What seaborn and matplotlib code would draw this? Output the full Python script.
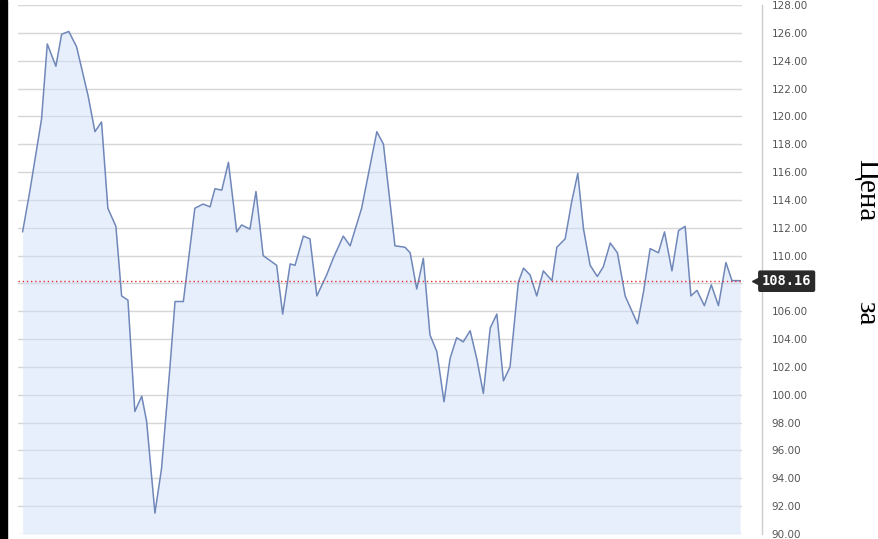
import matplotlib
matplotlib.use('Agg')
import matplotlib.pyplot as plt
import matplotlib.patches as mpatches
import pandas as pd
import seaborn as sns

# datos: dia (posicion) y precio
dias = [0.0, 2.5, 6.6, 8.6, 11.6, 13.6, 16.1, 18.8, 22.8, 25.2, 27.5, 29.7, 32.5, 34.5,
        36.7, 39.1, 41.5, 43.2, 46.1, 48.4, 51.3, 53.1, 56.0, 60.0, 62.9, 65.3, 67.0, 69.4,
        71.7, 74.6, 76.3, 79.2, 81.3, 83.8, 88.5, 90.6, 93.2, 94.9, 97.8, 100.1, 102.5, 105.9,
        108.2, 111.7, 114.1, 118.1, 123.4, 125.7, 129.7, 133.2, 135.0, 137.3, 139.6, 141.9,
        144.3, 146.8, 148.9, 151.2, 153.5, 155.9, 158.2, 160.5, 162.9, 165.2, 167.5, 169.8,
        172.7, 174.5, 176.8, 179.1, 181.4, 184.4, 186.1, 189.0, 191.3, 193.4, 195.4, 197.7,
        200.2, 202.3, 204.7, 207.2, 209.9, 214.2, 216.3, 218.6, 221.5, 223.6, 226.2, 228.5,
        230.8, 232.8, 234.9, 237.5, 239.9, 242.4, 245.0, 247.1, 250.0]
precios = [111.7, 114.6, 119.8, 125.2, 123.6, 125.9, 126.1, 125.0, 121.5, 118.9, 119.6, 113.4,
           112.1, 107.1, 106.8, 98.8, 99.9, 98.1, 91.5, 94.7, 101.9, 106.7, 106.7, 113.4, 113.7,
           113.5, 114.8, 114.7, 116.7, 111.7, 112.2, 111.9, 114.6, 110.0, 109.3, 105.8, 109.4,
           109.3, 111.4, 111.2, 107.1, 108.6, 109.8, 111.4, 110.7, 113.4, 118.9, 118.0, 110.7,
           110.6, 110.2, 107.6, 109.8, 104.3, 103.1, 99.5, 102.6, 104.1, 103.8, 104.6, 102.6,
           100.1, 104.8, 105.8, 101.0, 102.0, 108.1, 109.1, 108.6, 107.1, 108.9, 108.2, 110.6,
           111.2, 113.9, 115.9, 111.9, 109.3, 108.5, 109.2, 110.9, 110.2, 107.1, 105.1, 107.4,
           110.5, 110.2, 111.7, 108.9, 111.8, 112.1, 107.1, 107.5, 106.4, 107.9, 106.4, 109.5,
           108.2, 108.2]
precio_actual = 108.16
ticks_y = list(range(90, 130, 2))
# la etiqueta de 108.00 queda tapada por la del precio actual
labels_y = ['' if t == 108 else f'{t:.2f}' for t in ticks_y]

df = pd.DataFrame({'dia': dias, 'precio': precios})

sns.set_style('white')
fig = plt.figure(figsize=(8.79, 5.39), dpi=100)
ax = fig.add_axes([18 / 879, 5 / 539, 724 / 879, 529 / 539])

# area y linea
ax.fill_between(df['dia'], df['precio'], 90, color='#d2e0fa', alpha=0.5, lw=0, zorder=2)
sns.lineplot(data=df, x='dia', y='precio', ax=ax, color='#6f87b9', lw=1.1, zorder=3)
ax.axhline(precio_actual, color='#e03030', ls=(0, (1, 2)), lw=1.0, zorder=4)

ax.set_xlim(-1.6, 250.6)
ax.set_ylim(90, 128)
ax.set_yticks(ticks_y)
ax.set_yticklabels(labels_y)
ax.yaxis.tick_right()
ax.tick_params(axis='y', length=0, pad=7, labelsize=7.5, labelcolor='#555555')
ax.set_xticks([])
ax.set_xlabel('')
ax.set_ylabel('')
ax.grid(axis='y', color='#d6d6d6', lw=1, zorder=1)
for s in ['left', 'top', 'bottom']:
    ax.spines[s].set_visible(False)
ax.spines['right'].set_position(('outward', 14.4))
ax.spines['right'].set_color('#cccccc')
ax.spines['right'].set_linewidth(1)

# etiqueta del precio actual
ax.text(1.0275, precio_actual, f'{precio_actual:.2f}', transform=ax.get_yaxis_transform(),
        ha='left', va='center', color='white', fontsize=9.8, fontweight='bold',
        family='DejaVu Sans Mono',
        bbox=dict(boxstyle='round,pad=0.28,rounding_size=0.15', fc='#2a2a2a', ec='none'), zorder=6)
ax.plot([1.0205], [precio_actual], marker='<', ms=7, color='#2a2a2a',
        transform=ax.get_yaxis_transform(), clip_on=False, zorder=6)

# texto lateral
fig.text(866 / 879, 1 - 190 / 539, 'Цена', rotation=-90, ha='center', va='center',
         family='Liberation Serif', fontsize=21, color='black')
fig.text(866 / 879, 1 - 313 / 539, 'за', rotation=-90, ha='center', va='center',
         family='Liberation Serif', fontsize=21, color='black')

# barra negra a la izquierda
fig.patches.append(mpatches.Rectangle((0, 0), 7 / 879, 1, transform=fig.transFigure,
                                      color='black', zorder=10))

plt.savefig('out.png', dpi=100)
